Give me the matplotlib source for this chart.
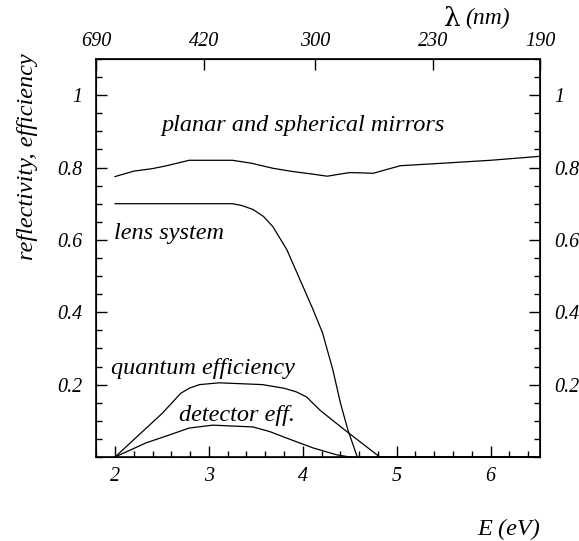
import numpy as np
import matplotlib
matplotlib.use("Agg")
import matplotlib.pyplot as plt
from matplotlib.ticker import MultipleLocator, FixedLocator

# reflectivity of planar and spherical mirrors
mirror_e = [2.0, 2.2, 2.4, 2.55, 2.79, 3.0, 3.25, 3.45, 3.68, 3.89, 4.1, 4.26, 4.4, 4.5, 4.65, 4.75, 4.9, 5.04, 5.5, 6.0, 6.53]
mirror_r = [0.775, 0.79, 0.797, 0.805, 0.82, 0.82, 0.82, 0.812, 0.798, 0.789, 0.782, 0.776, 0.782, 0.786, 0.785, 0.784, 0.795, 0.805, 0.812, 0.82, 0.831]

# lens system transmission
lens_e = [2.0, 2.5, 3.0, 3.25, 3.35, 3.47, 3.58, 3.68, 3.83, 3.97, 4.11, 4.21, 4.32, 4.4, 4.48, 4.58]
lens_t = [0.70, 0.70, 0.70, 0.70, 0.695, 0.684, 0.665, 0.637, 0.573, 0.49, 0.407, 0.343, 0.241, 0.15, 0.075, 0.0]

# quantum efficiency
qe_e = [2.0, 2.25, 2.5, 2.7, 2.79, 2.9, 3.11, 3.57, 3.8, 3.93, 4.04, 4.18, 4.3, 4.47, 4.68, 4.82, 6.53]
qe_v = [0.0, 0.06, 0.12, 0.176, 0.19, 0.2, 0.205, 0.2, 0.19, 0.18, 0.166, 0.13, 0.105, 0.07, 0.028, 0.0, 0.0]

# detector efficiency
det_e = [2.0, 2.33, 2.58, 2.79, 3.04, 3.47, 3.65, 3.83, 4.11, 4.36, 4.5, 6.53]
det_v = [0.0, 0.039, 0.061, 0.08, 0.088, 0.083, 0.07, 0.052, 0.025, 0.006, 0.0, 0.0]

lambda_ticks = [690, 420, 300, 230, 190]

plt.rcParams['font.family'] = ['Liberation Serif', 'DejaVu Serif']

fig = plt.figure(figsize=(5.79, 5.41), dpi=100)
ax = fig.add_axes([0.1658, 0.1553, 0.7668, 0.7357])

lw = 0.9
ax.plot(mirror_e, mirror_r, color='black', lw=lw)
ax.plot(lens_e, lens_t, color='black', lw=lw)
ax.plot(qe_e, qe_v, color='black', lw=lw)
ax.plot(det_e, det_v, color='black', lw=lw)

ax.set_xlim(1240 / 690, 1240 / 190)
ax.set_ylim(0, 1.1)

ax.xaxis.set_major_locator(FixedLocator([2, 3, 4, 5, 6]))
ax.xaxis.set_minor_locator(MultipleLocator(0.2))
ax.yaxis.set_major_locator(FixedLocator([0.2, 0.4, 0.6, 0.8, 1.0]))
ax.yaxis.set_minor_locator(MultipleLocator(0.05))
ax.set_xticklabels(['2', '3', '4', '5', '6'])
ax.set_yticklabels(['0.2', '0.4', '0.6', '0.8', '1'])

tsize = 14.5
ax.tick_params(which='both', direction='in', top=False, right=True,
               labelright=True, labelsize=tsize, width=1.0)
ax.tick_params(axis='x', pad=7)
ax.tick_params(axis='y', pad=10)
ax.tick_params(which='major', length=8)
ax.tick_params(which='minor', length=4)
for t in ax.xaxis.get_major_ticks():
    t.label1.set_style('italic')
for t in ax.yaxis.get_major_ticks():
    t.label1.set_style('italic')
    t.label2.set_style('italic')
for sp in ax.spines.values():
    sp.set_linewidth(1.2)

# top wavelength axis
top = ax.twiny()
top.set_xlim(ax.get_xlim())
top.set_xticks([1240 / l for l in lambda_ticks])
top.set_xticklabels([str(l) for l in lambda_ticks], style='italic', fontsize=tsize)
top.tick_params(direction='in', length=8, width=1.0, pad=6)

fs = 17.5
ax.text(2.49, 0.917, 'planar and spherical mirrors', style='italic', fontsize=fs,
        ha='left', va='center')
ax.text(1.99, 0.618, 'lens system', style='italic', fontsize=fs, ha='left', va='center')
ax.text(1.955, 0.244, 'quantum efficiency', style='italic', fontsize=fs, ha='left', va='center')
ax.text(2.68, 0.116, 'detector eff.', style='italic', fontsize=fs, ha='left', va='center')

fig.text(0.047, 0.71, 'reflectivity, efficiency', rotation=90, style='italic',
         fontsize=17.5, ha='center', va='center')
fig.text(0.933, 0.022, 'E (eV)', style='italic', fontsize=17.5, ha='right', va='center')
fig.text(0.881, 0.965, '(nm)', style='italic', fontsize=17, ha='right', va='center')
fig.text(0.795, 0.965, 'λ', fontsize=19, ha='right', va='center',
         family=['DejaVu Serif'])

fig.savefig('out.png', dpi=100)
